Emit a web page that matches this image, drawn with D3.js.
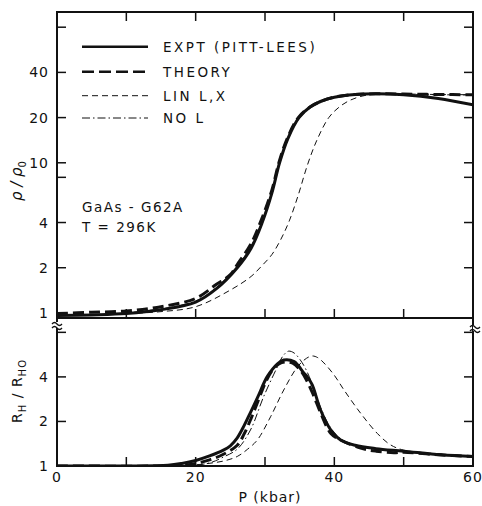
<!DOCTYPE html>
<html>
<head>
<meta charset="utf-8">
<script src="https://cdn.jsdelivr.net/npm/d3@7"></script>
<style>
  body { margin: 0; background: #fff; }
  text { font-family: "DejaVu Sans", sans-serif; fill: #111; }
</style>
</head>
<body>
<script>
// ticks and labels
const xTicks = [10, 20, 30, 40, 50];
const xLabels = [0, 20, 40, 60];
const rhoTicks = [1, 2, 4, 8, 10, 20, 40, 80];
const rhoLabels = [1, 2, 4, 10, 20, 40];
const rhTicks = [2, 4, 8];
const rhLabels = [1, 2, 4];

// legend
const seriesNames = ["EXPT (PITT-LEES)", "THEORY", "LIN L,X", "NO L"];

// top panel: rho/rho0 vs P (kbar)
const rhoExpt = [[0,0.96],[5,0.97],[10,0.99],[15,1.05],[20,1.18],[23,1.45],[26,2.0],[28,2.7],[29.6,4.0],[31,6.3],[32.1,10],[33.3,14.5],[34.9,20],[36.5,23.5],[38,25.6],[40,27.3],[43,28.5],[46,28.8],[50,28.4],[55,26.8],[60,24.3]];
const rhoTheory = [[0,0.99],[5,1.01],[10,1.03],[15,1.1],[20,1.25],[23,1.55],[25,1.8],[26,2.1],[28,2.9],[29.5,4.2],[31,6.6],[32,10],[33.2,14.5],[34.8,20],[36.5,23.5],[38,25.6],[40,27.4],[43,28.5],[46,28.8],[50,28.7],[55,28.5],[60,28.4]];
const rhoLin = [[0,0.96],[5,0.97],[10,0.99],[15,1.02],[20,1.1],[25,1.42],[28,1.75],[29.5,2.05],[31,2.45],[32.3,3.1],[33.5,4.1],[34.8,6.1],[36.1,9.6],[37.5,14.2],[39.2,20],[40.7,23.5],[42.2,26],[44,27.8],[46,28.7],[50,28.7],[55,28.5],[60,28.4]];
const rhoNoL = [[0,0.97],[10,1.0],[20,1.2],[23,1.48],[26,2.05],[28,2.8],[29.6,4.1],[31,6.4],[32.1,10],[33.3,14.5],[34.9,20],[36.5,23.5],[38,25.6],[40,27.4],[45,28.8],[50,28.6],[55,28.4],[60,28.3]];

// bottom panel: RH/RH0 vs P (kbar)
const rhExpt = [[0,1.0],[10,1.0],[16,1.01],[18,1.04],[20,1.09],[22,1.17],[24,1.28],[25,1.37],[26,1.55],[27,1.88],[28,2.35],[29,2.95],[30.3,4.0],[31.8,4.9],[32.7,5.2],[34.2,5.07],[35.6,4.25],[36.1,4.0],[36.8,3.55],[38,2.4],[39.5,1.75],[40.9,1.5],[43,1.38],[46,1.31],[50,1.26],[55.4,1.19],[60,1.16]];
const rhTheory = [[0,1.0],[15,1.0],[18,1.01],[20,1.04],[22,1.1],[24,1.2],[26,1.38],[27,1.65],[28,2.1],[29,2.75],[30,3.6],[31,4.4],[32,4.9],[33,5.05],[34,4.95],[35,4.5],[36,3.8],[37,3.0],[38,2.3],[39.5,1.66],[40.9,1.5],[43.8,1.32],[46,1.26],[48.6,1.23],[50,1.24],[55,1.19],[60,1.16]];
const rhLin = [[0,1.0],[18,1.0],[21,1.03],[24,1.08],[26,1.16],[27.5,1.3],[28.9,1.5],[30.8,2.15],[32.7,3.26],[34.7,4.69],[36,5.35],[36.8,5.54],[37.6,5.4],[38.5,4.97],[40,4.1],[41.4,3.26],[43.8,2.27],[46.2,1.66],[48.1,1.39],[50,1.28],[55,1.2],[60,1.16]];
const rhNoL = [[0,1.0],[18,1.0],[22,1.05],[24,1.15],[26,1.3],[27.9,1.75],[29.8,2.94],[31.8,4.69],[32.6,5.55],[33.4,5.97],[34.2,5.8],[35.1,5.2],[36,4.4],[37,3.4],[38,2.5],[39.5,1.8],[41,1.52],[43,1.38],[46,1.3],[50,1.26],[60,1.16]];

const styles = [
    { width: 3, dash: null },
    { width: 3, dash: "11,5" },
    { width: 1, dash: "6,4" },
    { width: 1, dash: "8,3,1.5,3" }
];

const W = 482, H = 506;
const svg = d3.select("body").append("svg")
    .attr("width", W)
    .attr("height", H);

const x = d3.scaleLinear().domain([0, 60]).range([57, 473]);
const yTop = d3.scaleLog().domain([0.925, 101]).range([318, 12]);
const yBot = d3.scaleLog().domain([1, 10]).range([466, 318]);

// clip each panel
const defs = svg.append("defs");
defs.append("clipPath").attr("id", "clipTop").append("rect")
    .attr("x", x(0)).attr("y", yTop.range()[1]).attr("width", x(60) - x(0)).attr("height", yTop.range()[0] - yTop.range()[1]);
defs.append("clipPath").attr("id", "clipBot").append("rect")
    .attr("x", x(0)).attr("y", yBot.range()[1]).attr("width", x(60) - x(0)).attr("height", yBot.range()[0] - yBot.range()[1]);

function drawCurves(series, yScale, clip) {
    const line = d3.line()
        .x(d => x(d[0]))
        .y(d => yScale(d[1]))
        .curve(d3.curveCatmullRom.alpha(0.5));
    const g = svg.append("g").attr("clip-path", "url(#" + clip + ")");
    // thin ones first, thick ones on top
    [2, 3, 1, 0].forEach(i => {
        g.append("path")
            .datum(series[i])
            .attr("d", line)
            .attr("fill", "none")
            .attr("stroke", "#111")
            .attr("stroke-width", styles[i].width)
            .attr("stroke-dasharray", styles[i].dash)
            .attr("stroke-linejoin", "round");
    });
}

drawCurves([rhoExpt, rhoTheory, rhoLin, rhoNoL], yTop, "clipTop");
drawCurves([rhExpt, rhTheory, rhLin, rhNoL], yBot, "clipBot");

// frame
const frame = svg.append("g").attr("stroke", "#111").attr("stroke-width", 2).attr("fill", "none");
frame.append("rect")
    .attr("x", x(0)).attr("y", yTop.range()[1])
    .attr("width", x(60) - x(0)).attr("height", yBot.range()[0] - yTop.range()[1]);
frame.append("line")
    .attr("x1", x(0)).attr("x2", x(60))
    .attr("y1", yTop.range()[0]).attr("y2", yTop.range()[0]);

// x ticks (inward) on top edge, panel divider and bottom edge
const tk = 9;
const ticks = svg.append("g").attr("stroke", "#111").attr("stroke-width", 1.5);
[[yTop.range()[1], 1], [yTop.range()[0], -1], [yBot.range()[0], -1]].forEach(([yy, dir]) => {
    xTicks.forEach(t => {
        ticks.append("line")
            .attr("x1", x(t)).attr("x2", x(t))
            .attr("y1", yy).attr("y2", yy + dir * tk);
    });
});
// y ticks left and right
function yTicksFor(vals, yScale) {
    vals.forEach(v => {
        ticks.append("line").attr("x1", x(0)).attr("x2", x(0) + tk).attr("y1", yScale(v)).attr("y2", yScale(v));
        ticks.append("line").attr("x1", x(60)).attr("x2", x(60) - tk).attr("y1", yScale(v)).attr("y2", yScale(v));
    });
}
yTicksFor(rhoTicks.filter(v => v > 1), yTop);
yTicksFor(rhTicks, yBot);

// tick labels
const labels = svg.append("g").attr("font-size", 14).attr("letter-spacing", 1);
xLabels.forEach(t => {
    labels.append("text")
        .attr("x", x(t)).attr("y", 482)
        .attr("text-anchor", "middle")
        .text(t);
});
rhoLabels.forEach(v => {
    labels.append("text")
        .attr("x", 49).attr("y", yTop(v))
        .attr("dy", "0.36em")
        .attr("text-anchor", "end")
        .text(v);
});
rhLabels.forEach(v => {
    labels.append("text")
        .attr("x", 49).attr("y", yBot(v))
        .attr("dy", "0.36em")
        .attr("text-anchor", "end")
        .text(v);
});

// axis break marks
function breakMark(cx, cy) {
    const g = svg.append("g");
    g.append("rect").attr("x", cx - 2).attr("y", cy - 3).attr("width", 4).attr("height", 6).attr("fill", "#fff");
    [-2, 2].forEach(o => {
        g.append("path")
            .attr("d", "M" + (cx - 5) + "," + (cy + o + 1) + " q2.5,-3 5,0 t5,0")
            .attr("fill", "none").attr("stroke", "#111").attr("stroke-width", 1.3);
    });
}
breakMark(x(0), 325);
breakMark(x(60) + 2, 328);

// axis titles
svg.append("text")
    .attr("x", 270).attr("y", 502)
    .attr("text-anchor", "middle")
    .attr("font-size", 14).attr("letter-spacing", 1)
    .text("P (kbar)");

const t1 = svg.append("text")
    .attr("transform", "translate(22,181) rotate(-90)")
    .attr("text-anchor", "middle")
    .attr("font-size", 15);
t1.append("tspan").attr("font-style", "italic").text("ρ / ρ");
t1.append("tspan").attr("font-size", 10).attr("dy", 4).text("0");

const t2 = svg.append("text")
    .attr("transform", "translate(22,391) rotate(-90)")
    .attr("text-anchor", "middle")
    .attr("font-size", 14).attr("letter-spacing", 1);
t2.append("tspan").text("R");
t2.append("tspan").attr("font-size", 10).attr("dy", 4).text("H");
t2.append("tspan").attr("dy", -4).text(" / R");
t2.append("tspan").attr("font-size", 10).attr("dy", 4).text("HO");

// legend
const legend = svg.append("g");
const legendRows = [46.7, 71.7, 95.7, 118];
seriesNames.forEach((name, i) => {
    const yy = legendRows[i];
    legend.append("line")
        .attr("x1", 82).attr("x2", 148)
        .attr("y1", yy).attr("y2", yy)
        .attr("stroke", "#111")
        .attr("stroke-width", i < 2 ? 2.5 : 1)
        .attr("stroke-dasharray", i === 1 ? "12,5" : styles[i].dash);
    legend.append("text")
        .attr("x", 163).attr("y", yy)
        .attr("dy", "0.36em")
        .attr("font-size", 13.5).attr("letter-spacing", 2.5)
        .text(name);
});

// sample annotation
svg.append("text").attr("x", 82).attr("y", 207).attr("dy", "0.36em")
    .attr("font-size", 13.5).attr("letter-spacing", 1.5).text("GaAs - G62A");
svg.append("text").attr("x", 82).attr("y", 227.5).attr("dy", "0.36em")
    .attr("font-size", 13.5).attr("letter-spacing", 1.5).text("T = 296K");
</script>
</body>
</html>
